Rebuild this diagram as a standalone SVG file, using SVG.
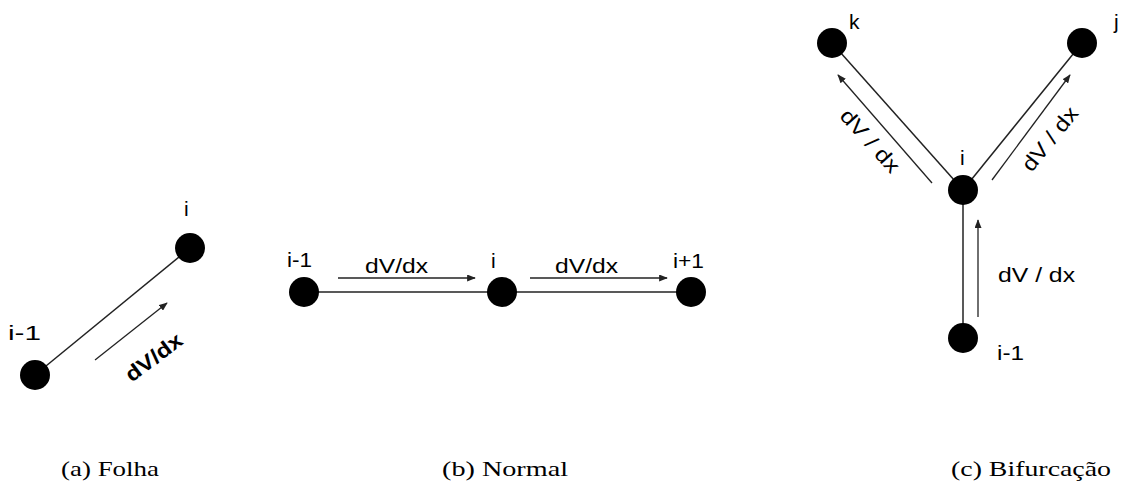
<svg xmlns="http://www.w3.org/2000/svg" width="1121" height="486" viewBox="0 0 1121 486">
  <style>
    .edge { stroke: #222; stroke-width: 1.5; fill: none; }
    .flow { stroke: #222; stroke-width: 1.3; fill: none; marker-end: url(#head); }
    .node { fill: #000; }
    .lbl { font-family: "Liberation Sans", Arial, sans-serif; font-size: 21px; fill: #000; }
    .cap { font-family: "Liberation Serif", "Times New Roman", serif; font-size: 22px; fill: #000; }
  </style>
  <defs>
    <marker id="head" viewBox="0 0 10 8" refX="9" refY="4" markerWidth="9" markerHeight="7" markerUnits="userSpaceOnUse" orient="auto">
      <path d="M0,0 L10,4 L0,8 z" fill="#222"/>
    </marker>
  </defs>

  <rect width="1121" height="486" fill="#fff"/>

  <!-- connectors -->
  <g id="connectors">
    <!-- (a) leaf -->
    <line class="edge" x1="35" y1="375" x2="190" y2="248"/>
    <line class="flow" x1="95" y1="360" x2="167" y2="303"/>
    <!-- (b) normal -->
    <line class="edge" x1="304" y1="292" x2="691" y2="292"/>
    <line class="flow" x1="338" y1="278" x2="475" y2="278"/>
    <line class="flow" x1="530" y1="278" x2="667" y2="278"/>
    <!-- (c) bifurcation -->
    <line class="edge" x1="963" y1="190" x2="832" y2="43"/>
    <line class="edge" x1="963" y1="190" x2="1082" y2="43"/>
    <line class="edge" x1="963" y1="190" x2="963" y2="338"/>
    <line class="flow" x1="932" y1="183" x2="838" y2="75"/>
    <line class="flow" x1="992" y1="180" x2="1070" y2="75"/>
    <line class="flow" x1="978" y1="317" x2="978" y2="220"/>
  </g>

  <!-- (a) leaf -->
  <g id="a-prev">
    <circle class="node" cx="35" cy="375" r="15"/>
    <text class="lbl" x="8" y="340" font-size="23" textLength="33" lengthAdjust="spacingAndGlyphs">i-1</text>
  </g>
  <g id="a-node">
    <circle class="node" cx="190" cy="248" r="15"/>
    <text class="lbl" x="184" y="216" font-size="23">i</text>
  </g>
  <g id="a-flow-label">
    <text class="lbl" font-weight="bold" font-size="22" text-anchor="middle" textLength="66" lengthAdjust="spacingAndGlyphs" transform="translate(158,363) rotate(-37)">dV/dx</text>
  </g>

  <!-- (b) normal -->
  <g id="b-prev">
    <circle class="node" cx="304" cy="292" r="15"/>
    <text class="lbl" x="287" y="267" textLength="25" lengthAdjust="spacingAndGlyphs">i-1</text>
  </g>
  <g id="b-node">
    <circle class="node" cx="502" cy="292" r="15"/>
    <text class="lbl" x="491" y="268">i</text>
  </g>
  <g id="b-next">
    <circle class="node" cx="691" cy="292" r="15"/>
    <text class="lbl" x="673" y="268" textLength="31" lengthAdjust="spacingAndGlyphs">i+1</text>
  </g>
  <g id="b-flow-labels">
    <text class="lbl" x="365" y="273" textLength="63" lengthAdjust="spacingAndGlyphs">dV/dx</text>
    <text class="lbl" x="555" y="273" textLength="63" lengthAdjust="spacingAndGlyphs">dV/dx</text>
  </g>

  <!-- (c) bifurcation -->
  <g id="c-k">
    <circle class="node" cx="832" cy="43" r="15"/>
    <text class="lbl" x="849" y="29">k</text>
  </g>
  <g id="c-j">
    <circle class="node" cx="1082" cy="43" r="15"/>
    <text class="lbl" x="1114" y="29">j</text>
  </g>
  <g id="c-node">
    <circle class="node" cx="963" cy="190" r="15"/>
    <text class="lbl" x="960" y="165">i</text>
  </g>
  <g id="c-prev">
    <circle class="node" cx="963" cy="338" r="15"/>
    <text class="lbl" x="997" y="360" textLength="27" lengthAdjust="spacingAndGlyphs">i-1</text>
  </g>
  <g id="c-flow-labels">
    <text class="lbl" text-anchor="middle" textLength="78" lengthAdjust="spacingAndGlyphs" transform="translate(870,141) rotate(48) translate(0,7)">dV / dx</text>
    <text class="lbl" text-anchor="middle" textLength="76" lengthAdjust="spacingAndGlyphs" transform="translate(1050,139) rotate(-51) translate(0,7)">dV / dx</text>
    <text class="lbl" x="998" y="282" textLength="77" lengthAdjust="spacingAndGlyphs">dV / dx</text>
  </g>

  <!-- captions -->
  <g id="captions">
    <text class="cap" x="61" y="476" textLength="98" lengthAdjust="spacingAndGlyphs">(a) Folha</text>
    <text class="cap" x="442" y="476" textLength="126" lengthAdjust="spacingAndGlyphs">(b) Normal</text>
    <text class="cap" x="951" y="476" textLength="160" lengthAdjust="spacingAndGlyphs">(c) Bifurcação</text>
  </g>
</svg>
